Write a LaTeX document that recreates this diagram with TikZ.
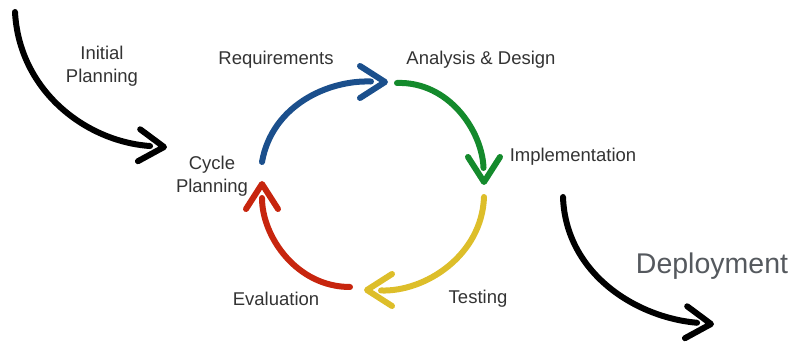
\documentclass[tikz,border=0pt]{standalone}
\usepackage{fontspec}
\setmainfont{Liberation Sans}
\definecolor{reqblue}{HTML}{1B4F8C}
\definecolor{desgreen}{HTML}{148A2C}
\definecolor{testyellow}{HTML}{DDBE2A}
\definecolor{evalred}{HTML}{C7250E}
\definecolor{labelgray}{HTML}{333333}
\definecolor{deploygray}{HTML}{55595E}
\tikzset{
  brush/.style = {line width = 6pt, line cap = round, line join = round},
  phase/.style = {text = labelgray, font = \fontsize{18.5}{23}\selectfont, align = center}
}
\newcommand{\chev}[1]{
  \begin{scope}[#1]
    \draw[brush] (-25pt, 16pt) -- (0, 0) -- (-25pt, -16pt);
  \end{scope}
}

\begin{document}
\begin{tikzpicture}[x = 1pt, y = 1pt]
  \useasboundingbox (0, 0) rectangle (792, 350);

  \node[phase] (init) at (102, 284) {Initial\\Planning};
  \node[phase] (cycle) at (212, 174) {Cycle\\Planning};
  \node[phase] (req) at (276, 290) {Requirements};
  \node[phase] (design) at (481, 290) {Analysis \& Design};
  \node[phase] (impl) at (573, 193) {Implementation};
  \node[phase] (test) at (478, 51) {Testing};
  \node[phase] (eval) at (276, 51) {Evaluation};
  \node[text = deploygray, font = \fontsize{28.5}{32}\selectfont] (deploy) at (712, 84) {Deployment};

  \coordinate (i0) at (15, 338);   \coordinate (i1) at (164, 203);
  \coordinate (b0) at (262, 188);  \coordinate (b1) at (385, 268);
  \coordinate (g0) at (397, 267);  \coordinate (g1) at (484, 168);
  \coordinate (y0) at (484, 153);  \coordinate (y1) at (367, 60);
  \coordinate (r0) at (350, 63);   \coordinate (r1) at (262, 166);
  \coordinate (d0) at (563, 153);  \coordinate (d1) at (711, 26);

  \draw[brush, shorten > = 14pt] (i0) to[out = -87, in = 176] (i1);
  \chev{shift = {(i1)}, rotate = -4}

  \draw[brush, reqblue, shorten > = 14pt] (b0) to[out = 80, in = 178] (b1);
  \chev{reqblue, shift = {(b1)}}

  \draw[brush, desgreen, shorten > = 14pt] (g0) to[out = 2, in = 92] (g1);
  \chev{desgreen, shift = {(g1)}, rotate = -90}

  \draw[brush, testyellow, shorten > = 14pt] (y0) to[out = -92, in = -2] (y1);
  \chev{testyellow, shift = {(y1)}, rotate = 180}

  \draw[brush, evalred, shorten > = 14pt] (r0) to[out = 180, in = -90] (r1);
  \chev{evalred, shift = {(r1)}, rotate = 90}

  \draw[brush, shorten > = 14pt] (d0) to[out = -88, in = 175] (d1);
  \chev{shift = {(d1)}, rotate = -4}
\end{tikzpicture}
\end{document}
